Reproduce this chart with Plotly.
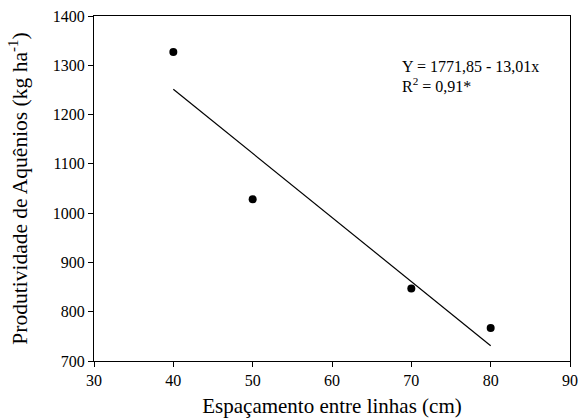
import plotly.graph_objects as go

espacamento = [40, 50, 70, 80]
produtividade = [1327, 1028, 847, 767]
fit_x = [40, 80]
b0, b1 = 1771.85, -13.01
fit_y = [b0 + b1 * x for x in fit_x]

font = "Liberation Serif"

fig = go.Figure()
fig.add_trace(go.Scatter(x=fit_x, y=fit_y, mode="lines",
                         line=dict(color="black", width=1.2), showlegend=False))
fig.add_trace(go.Scatter(x=espacamento, y=produtividade, mode="markers",
                         marker=dict(color="black", size=8), showlegend=False))

axis_common = dict(showline=True, linecolor="black", linewidth=1, mirror=True,
                   ticks="outside", ticklen=5, tickcolor="black", showgrid=False,
                   zeroline=False, automargin=False,
                   tickfont=dict(family=font, size=16, color="black"))

fig.update_xaxes(range=[30, 90], dtick=10, tick0=30,
                 title=dict(text="Espaçamento entre linhas (cm)",
                            font=dict(family=font, size=21, color="black"), standoff=10),
                 **axis_common)
fig.update_yaxes(range=[700, 1400], dtick=100, tick0=700,
                 title=dict(text="Produtividade de Aquênios (kg ha<sup>-1</sup>)",
                            font=dict(family=font, size=21.5, color="black"), standoff=19),
                 **axis_common)

fig.add_annotation(x=0.643, y=0.855, xref="paper", yref="paper", xanchor="left", yanchor="middle",
                   text="Y = 1771,85 - 13,01x", showarrow=False,
                   font=dict(family=font, size=16, color="black"))
fig.add_annotation(x=0.643, y=0.80, xref="paper", yref="paper", xanchor="left", yanchor="middle",
                   text="R<sup>2</sup> = 0,91*", showarrow=False,
                   font=dict(family=font, size=16, color="black"))

fig.update_layout(width=579, height=420, plot_bgcolor="white", paper_bgcolor="white",
                  font=dict(family=font, color="black"),
                  margin=dict(l=94, r=9, t=16, b=59))
fig.write_html("out.html", config={"displayModeBar": False},
               post_script="document.body.style.margin='0';")
